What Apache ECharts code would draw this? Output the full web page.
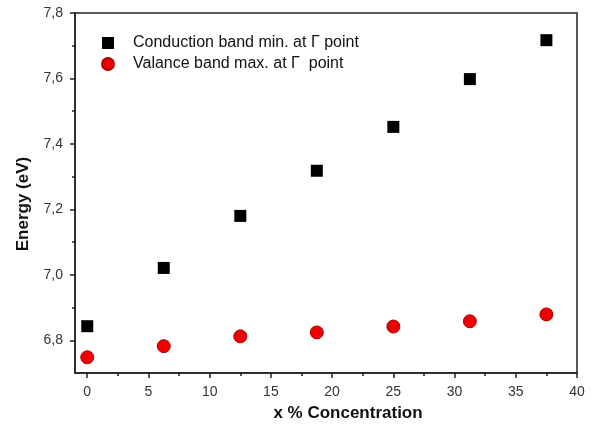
<!DOCTYPE html>
<html>
<head>
<meta charset="utf-8">
<script src="https://cdn.jsdelivr.net/npm/echarts@6/dist/echarts.min.js"></script>
<style>
  html, body { margin: 0; padding: 0; background: #fff; }
  #chart { width: 609px; height: 424px; }
</style>
</head>
<body>
<div id="chart"></div>
<script>
// concentration (x %) and band energies (eV)
var concentration = [0, 6.25, 12.5, 18.75, 25, 31.25, 37.5]
var conductionMin = [6.843, 7.021, 7.18, 7.318, 7.452, 7.598, 7.717]
var valenceMax = [6.748, 6.782, 6.812, 6.824, 6.842, 6.858, 6.879]
var xTicks = [0, 5, 10, 15, 20, 25, 30, 35, 40]
var xMinor = [2.5, 7.5, 12.5, 17.5, 22.5, 27.5, 32.5, 37.5]
var yTicks = [6.8, 7.0, 7.2, 7.4, 7.6, 7.8]
var yMinor = [6.9, 7.1, 7.3, 7.5, 7.7]

var toPairs = function (xs, ys) {
  return xs.map(function (x, i) { return [x, ys[i]] })
}

var font = 'Liberation Sans, Arial, sans-serif'
var axisLine = { show: true, onZero: false, lineStyle: { color: '#222', width: 1.5 } }
var labelFont = { color: '#333', fontSize: 14, fontFamily: font }

var option = {
  backgroundColor: '#fff',
  animation: false,
  grid: {
    left: 75, right: 32, top: 13, bottom: 51,
    outerBoundsMode: 'none',
    show: true, borderColor: '#222', borderWidth: 1.5, backgroundColor: 'transparent'
  },
  legend: {
    orient: 'vertical',
    left: 96,
    top: 30,
    itemWidth: 12,
    itemHeight: 12,
    itemGap: 5,
    textStyle: { color: '#111', fontSize: 16, fontFamily: font, padding: [0, 0, 0, 14] },
    data: [
      { name: 'Conduction band min. at Γ point', icon: 'rect' },
      { name: 'Valance band max. at Γ  point', icon: 'circle' }
    ]
  },
  xAxis: [{
    type: 'value', min: -1, max: 40,
    name: 'x % Concentration', nameLocation: 'middle', nameGap: 32,
    nameTextStyle: { color: '#111', fontSize: 17, fontWeight: 'bold', fontFamily: font, padding: [0, 0, 0, 44] },
    axisLine: axisLine,
    splitLine: { show: false },
    axisTick: { show: true, inside: false, length: 5, customValues: xTicks, lineStyle: { color: '#222', width: 1.5 } },
    axisLabel: Object.assign({ margin: 12, customValues: xTicks }, labelFont)
  }, {
    type: 'value', min: -1, max: 40, position: 'bottom', offset: 0,
    axisLine: { show: false, onZero: false },
    splitLine: { show: false },
    axisTick: { show: true, inside: false, length: 3, customValues: xMinor, lineStyle: { color: '#222', width: 1.5 } },
    axisLabel: { show: false }
  }],
  yAxis: [{
    type: 'value', min: 6.7, max: 7.8,
    name: 'Energy (eV)', nameLocation: 'middle', nameGap: 43,
    nameTextStyle: { color: '#111', fontSize: 17, fontWeight: 'bold', fontFamily: font, padding: [0, 22, 0, 0] },
    axisLine: axisLine,
    splitLine: { show: false },
    axisTick: { show: true, inside: false, length: 5, customValues: yTicks, lineStyle: { color: '#222', width: 1.5 } },
    axisLabel: Object.assign({
      margin: 12,
      customValues: yTicks,
      formatter: function (v) { return v.toFixed(1).replace('.', ',') }
    }, labelFont)
  }, {
    type: 'value', min: 6.7, max: 7.8, position: 'left', offset: 0,
    axisLine: { show: false, onZero: false },
    splitLine: { show: false },
    axisTick: { show: true, inside: false, length: 3, customValues: yMinor, lineStyle: { color: '#222', width: 1.5 } },
    axisLabel: { show: false }
  }],
  series: [{
    name: 'Conduction band min. at Γ point',
    type: 'scatter',
    symbol: 'rect',
    symbolSize: 12,
    itemStyle: { color: '#000', opacity: 1 },
    data: toPairs(concentration, conductionMin)
  }, {
    name: 'Valance band max. at Γ  point',
    type: 'scatter',
    symbol: 'circle',
    symbolSize: 13,
    itemStyle: { color: '#ee0000', borderColor: '#b00000', borderWidth: 1, opacity: 1 },
    data: toPairs(concentration, valenceMax)
  }]
}

var myChart = echarts.init(document.getElementById('chart'))
myChart.setOption(option)
</script>
</body>
</html>
